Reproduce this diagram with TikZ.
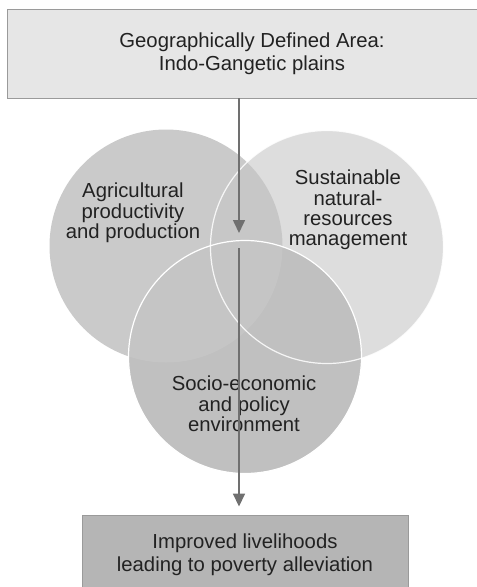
\documentclass[tikz,border=0pt]{standalone}
\usepackage{fontspec}
\setmainfont{Liberation Sans}
\usetikzlibrary{arrows.meta}
\definecolor{txt}{HTML}{222222}
\definecolor{boxtop}{HTML}{E6E6E6}
\definecolor{boxbot}{HTML}{B5B5B5}
\definecolor{edge}{HTML}{9A9A9A}
\definecolor{cleft}{HTML}{C6C6C6}
\definecolor{cright}{HTML}{DDDDDD}
\definecolor{cbot}{HTML}{C0C0C0}
\definecolor{arr}{HTML}{707070}
\begin{document}
\begin{tikzpicture}[x=1pt,y=-1pt,
  boxstyle/.style={draw=edge, line width=0.9pt, align=center, text=txt,
    font=\fontsize{20.3}{23}\selectfont, inner sep=0pt},
  venn/.style={circle, minimum size=233pt, inner sep=0pt},
  ring/.style={draw=white, line width=1.2pt},
  lbl/.style={align=center, text=txt, font=\fontsize{20.3}{20.4}\selectfont, inner sep=0pt},
  flow/.style={draw=arr, line width=1.6pt, -{Triangle[width=12pt,length=13pt]}}]
\useasboundingbox (0,0) rectangle (477,587);
\clip (0,0) rectangle (477,587);

% boxes
\node[boxstyle, fill=boxtop, minimum width=490pt, minimum height=89pt] (area) at (252,53.5)
  {Geographically Defined Area:\\Indo-Gangetic plains};
\node[boxstyle, fill=boxbot, minimum width=326pt, minimum height=80pt] (live) at (245,555)
  {Improved livelihoods\\leading to poverty alleviation};

% circles
\node[venn, fill=cright] (sust) at (327,247) {};
\node[venn, fill=cbot] (socio) at (245,357) {};
\node[venn, fill=cleft, fill opacity=0.92] (agri) at (166,246) {};
\draw[ring, opacity=0.85] (sust.center) circle[radius=116.5pt];
\draw[ring] (socio.center) circle[radius=116.5pt];

% labels
\node[lbl] (agrit) at (133,213) {Agricultural\\productivity\\and production};
\node[lbl] (sustt) at (348,210) {Sustainable\\natural-\\resources\\management};
\node[lbl] (sociot) at (244,404) {Socio-economic\\and policy\\environment};

% arrows
\coordinate (mid1) at (239,233);
\coordinate (mid2) at (239,248);
\draw[flow] (area.south -| mid1) -- (mid1);
\draw[flow, shorten >=8pt] (mid2) -- (live.north -| mid2);
\end{tikzpicture}
\end{document}
